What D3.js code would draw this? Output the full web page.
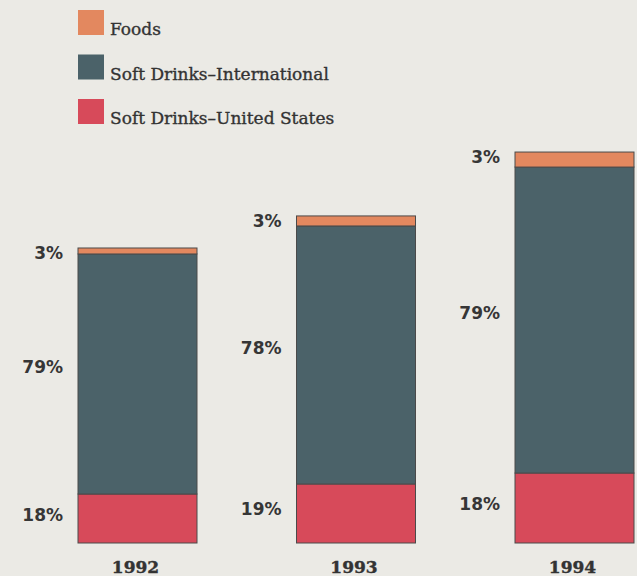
<!DOCTYPE html>
<html>
<head>
<meta charset="utf-8">
<script src="https://cdn.jsdelivr.net/npm/d3@7"></script>
<style>
    html, body { margin: 0; padding: 0; background: #ebeae5; }
</style>
</head>
<body>
<div id="chart"></div>
<script>

// years on the x axis
const years = ['1992', '1993', '1994'];

// segment values ($ millions)
const softDrinksUS = [460, 554, 657];
const softDrinksIntl = [2254, 2423, 2873];
const foods = [56, 94, 141];

// printed percentage labels
const pctUS = ['18%', '19%', '18%'];
const pctIntl = ['79%', '78%', '79%'];
const pctFoods = ['3%', '3%', '3%'];

const seriesNames = ['Foods', 'Soft Drinks\u2013International', 'Soft Drinks\u2013United States'];
const seriesKeys = ['us', 'intl', 'foods'];

const w = 637;
const h = 576;

const colors = {
    foods: '#e3885f',
    intl: '#4b6269',
    us: '#d74a5a',
};

const rows = years.map((y, i) => ({
    year: y,
    us: softDrinksUS[i],
    intl: softDrinksIntl[i],
    foods: foods[i],
    labels: {us: pctUS[i], intl: pctIntl[i], foods: pctFoods[i]},
}));

const svg = d3.select('#chart').append('svg')
    .attr('width', w)
    .attr('height', h)
;

const x = d3.scaleBand()
    .domain(years)
    .range([78, 634])
    .paddingInner(0.4554)
    .paddingOuter(0)
;

const y = d3.scaleLinear()
    .domain([0, 4000])
    .range([543, 543 - 4000 * 0.1065])
;

const stack = d3.stack().keys(seriesKeys);
const layers = stack(rows);

// bars
const layerG = svg.selectAll('g.layer')
    .data(layers)
    .join('g')
    .attr('class', 'layer')
    .attr('fill', d => colors[d.key])
;

layerG.selectAll('rect')
    .data(d => d)
    .join('rect')
    .attr('x', d => x(d.data.year))
    .attr('width', x.bandwidth())
    .attr('y', d => y(d[1]))
    .attr('height', d => y(d[0]) - y(d[1]))
    .attr('stroke', '#4b4a4a')
    .attr('stroke-width', 1)
;

// percentage labels, left of each segment
layers.forEach(layer => {
    svg.append('g').selectAll('text')
        .data(layer)
        .join('text')
        .attr('x', d => x(d.data.year) - 15)
        .attr('y', d => {
            const mid = (y(d[0]) + y(d[1])) / 2;
            if (layer.key === 'foods') return y(d[1]) + 11;
            return layer.key === 'intl' ? mid - 1 : mid + 2;
        })
        .attr('text-anchor', 'end')
        .attr('font-family', 'DejaVu Sans, sans-serif')
        .attr('font-weight', 'bold')
        .attr('font-size', 17)
        .attr('fill', '#363636')
        .text(d => d.data.labels[layer.key])
    ;
});

// year labels
svg.append('g').selectAll('text')
    .data(years)
    .join('text')
    .attr('x', d => x(d) + x.bandwidth() / 2 - 2)
    .attr('y', 573)
    .attr('text-anchor', 'middle')
    .attr('font-family', 'DejaVu Serif, serif')
    .attr('font-weight', 'bold')
    .attr('font-size', 17)
    .attr('fill', '#333')
    .attr('stroke', '#333')
    .attr('stroke-width', 0.4)
    .text(d => d)
;

// legend
const legendKeys = ['foods', 'intl', 'us'];
const legend = svg.append('g').selectAll('g')
    .data(legendKeys)
    .join('g')
    .attr('transform', (d, i) => `translate(78, ${10 + i * 44.5})`)
;

legend.append('rect')
    .attr('width', 26)
    .attr('height', 25)
    .attr('fill', d => colors[d])
;

legend.append('text')
    .attr('x', 32)
    .attr('y', 25)
    .attr('font-family', 'DejaVu Serif, serif')
    .attr('font-size', 17)
    .attr('fill', '#333')
    .attr('stroke', '#333')
    .attr('stroke-width', 0.35)
    .text((d, i) => seriesNames[i])
;

</script>
</body>
</html>
